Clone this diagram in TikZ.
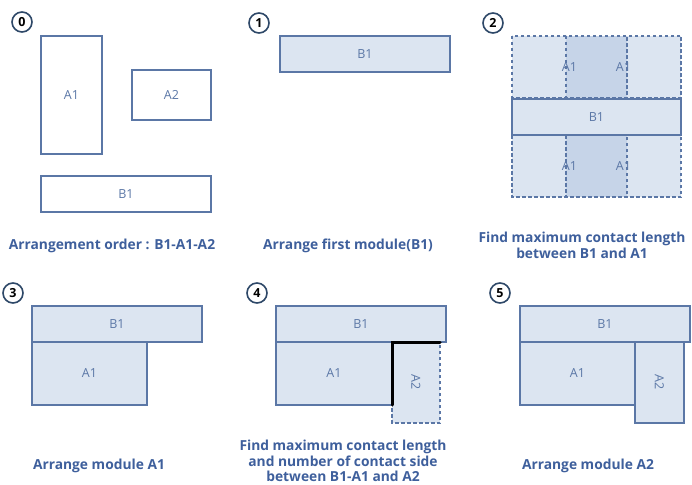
\documentclass[tikz,border=0pt]{standalone}
\usepackage{fontspec}
\setmainfont{Open Sans}
\usetikzlibrary{positioning}
\definecolor{boxfill}{HTML}{DCE5F1}
\definecolor{boxdark}{HTML}{C6D4E8}
\definecolor{boxline}{HTML}{5B77A6}
\definecolor{captext}{HTML}{3E5F9C}
\definecolor{stepline}{HTML}{2E4868}
\tikzset{
	module/.style={draw=boxline,line width=1.2pt},
	ghost/.style={draw=boxline,line width=1.1pt,dash pattern=on 3.5pt off 2.5pt},
	modlabel/.style={text=boxline,font=\fontsize{12.5}{14}\selectfont},
	caption/.style={text=captext,font=\bfseries\fontsize{13.8}{16}\selectfont,align=center},
	stepno/.style={circle,draw=stepline,line width=1.6pt,minimum size=20pt,inner sep=0pt,font=\bfseries\fontsize{12.5}{14}\selectfont}
}
\begin{document}
\begin{tikzpicture}[x=1pt,y=-1pt]
	\useasboundingbox (0,0) rectangle (692,484);
	% step 0
	\node[stepno] (s0) at (22,22) {0};
	\draw[module] (41,36) rectangle (102,154);
	\node[modlabel] (a1z) at (71.5,95) {A1};
	\draw[module] (132,70) rectangle (211,120);
	\node[modlabel] (a2z) at (171.5,95) {A2};
	\draw[module] (41,176) rectangle (211,212);
	\node[modlabel] (b1z) at (126,194) {B1};
	\node[caption] (c0) at (112,246) {Arrangement order : B1-A1-A2};
	% step 1
	\node[stepno] (s1) at (259,23) {1};
	\draw[module,fill=boxfill] (280,36) rectangle (450,72);
	\node[modlabel] (b1a) at (365,54) {B1};
	\node[caption] (c1) at (348,246) {Arrange first module(B1)};
	% step 2
	\node[stepno] (s2) at (493,23) {2};
	\fill[boxfill] (512,36) rectangle (681,197);
	\fill[boxdark] (566,36) rectangle (627,197);
	\foreach \y in {36,135}{
		\draw[ghost] (512,\y) rectangle (627,\y+62);
		\draw[ghost] (566,\y) rectangle (681,\y+62);
	}
	\draw[module,fill=boxfill] (512,99) rectangle (681,135);
	\node[modlabel] (b1b) at (596.5,117) {B1};
	\node[modlabel] (a1tl) at (569.5,67.5) {A1};
	\node[modlabel] (a1tr) at (623.5,67.5) {A1};
	\node[modlabel] (a1bl) at (569.5,166) {A1};
	\node[modlabel] (a1br) at (623.5,166) {A1};
	\node[caption] (c2) at (582,245) {Find maximum contact length\\between B1 and A1};
	% step 3
	\node[stepno] (s3) at (13,293) {3};
	\draw[module,fill=boxfill] (32,306) rectangle (202,342);
	\node[modlabel] (b1c) at (117,324) {B1};
	\draw[module,fill=boxfill] (32,342) rectangle (147,405);
	\node[modlabel] (a1c) at (89.5,373.5) {A1};
	\node[caption] (c3) at (99,466) {Arrange module A1};
	% step 4
	\node[stepno] (s4) at (257,293) {4};
	\draw[module,fill=boxfill] (276,306) rectangle (446,342);
	\node[modlabel] (b1d) at (361,324) {B1};
	\draw[module,fill=boxfill] (276,342) rectangle (392,405);
	\node[modlabel] (a1d) at (334,373.5) {A1};
	\fill[boxfill] (392,342) rectangle (440,423);
	\draw[ghost] (392,342) rectangle (440,423);
	\node[modlabel,rotate=-90] (a2d) at (416,382) {A2};
	\draw[line width=3pt,line cap=round] (392,405) -- (392,342.5) -- (440,342.5);
	\node[caption,font=\bfseries\fontsize{13.8}{15.5}\selectfont,inner sep=1pt] (c4) at (343,461) {Find maximum contact length\\and number of contact side\\between B1-A1 and A2};
	% step 5
	\node[stepno] (s5) at (500,293) {5};
	\draw[module,fill=boxfill] (520,306) rectangle (690,342);
	\node[modlabel] (b1e) at (605,324) {B1};
	\draw[module,fill=boxfill] (520,342) rectangle (635,405);
	\node[modlabel] (a1e) at (577.5,373.5) {A1};
	\draw[module,fill=boxfill] (635,342) rectangle (684,423);
	\node[modlabel,rotate=-90] (a2e) at (659.5,382) {A2};
	\node[caption] (c5) at (588,466) {Arrange module A2};
\end{tikzpicture}
\end{document}
